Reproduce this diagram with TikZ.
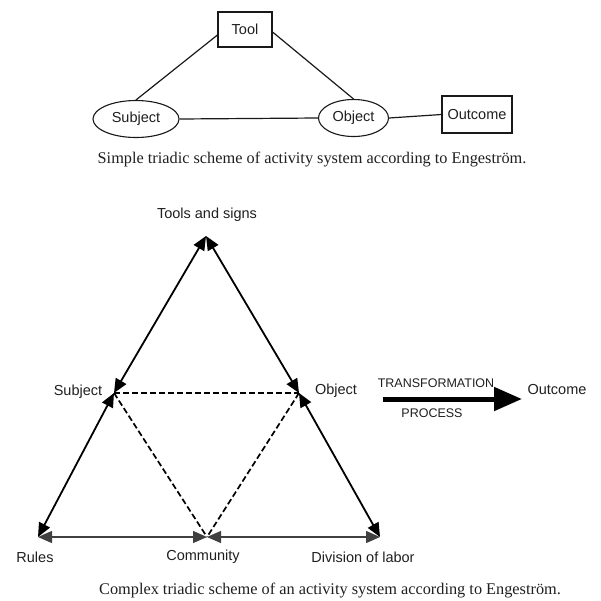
\documentclass[tikz,border=0pt]{standalone}
\usepackage{fontspec}
\setmainfont{Liberation Serif}
\setsansfont{Liberation Sans}
\usetikzlibrary{arrows.meta,shapes.geometric}

\begin{document}
\begin{tikzpicture}[x=1pt,y=-1pt,
  lbl/.style={font=\sffamily\fontsize{14.5}{16}\selectfont, text=black!88, inner sep=0pt},
  caps/.style={font=\sffamily\fontsize{12.5}{14}\selectfont, text=black!88, inner sep=0pt},
  caption/.style={font=\fontsize{16.3}{18}\selectfont, text=black!88, inner sep=0pt},
  boxnode/.style={lbl, draw=black!90, line width=1.1pt, minimum width=54pt, minimum height=35pt},
  ovalnode/.style={lbl, ellipse, draw=black!90, line width=1.1pt, minimum height=37pt},
  link/.style={draw=black!90, line width=1.2pt},
  headtip/.tip={Triangle[length=14pt,width=12pt]},
  edge2/.style={draw=black, line width=1.8pt, headtip-headtip},
  baseedge/.style={draw=black!75, line width=1.3pt, headtip-headtip},
  dashline/.style={draw=black, line width=1.7pt, dash pattern=on 6pt off 3pt},
  bigarrow/.style={draw=black, line width=5pt, -{Triangle[length=28pt,width=23pt]}}
]
\useasboundingbox (0,0) rectangle (601,600);

% ---------- simple triadic scheme ----------
\node[boxnode] (tool) at (245,29.5) {Tool};
\node[ovalnode, minimum width=86pt] (subj) at (136,119) {Subject};
\node[ovalnode, minimum width=70pt] (obj) at (353.5,118) {Object};
\node[boxnode, minimum width=70pt, minimum height=37pt] (out) at (477,114.5) {Outcome};

\draw[link] ([yshift=-5.5pt]tool.west) -- (subj.north);
\draw[link] ([yshift=-2.5pt]tool.east) -- (obj.north);
\draw[link] (subj.east) -- (obj.west);
\draw[link] (obj.east) -- (out.west);

\node[caption] (cap1) at (312,160) {Simple triadic scheme of activity system according to Engeström.};

% ---------- complex triadic scheme ----------
\coordinate (T) at (206,236);
\coordinate (S) at (114,393);
\coordinate (O) at (299,393);
\coordinate (R) at (38,537);
\coordinate (C) at (207,537);
\coordinate (D) at (380,537);

\draw[edge2] (T) -- (S);
\draw[edge2] (T) -- (O);
\draw[edge2] (S) -- (R);
\draw[edge2] (O) -- (D);
\draw[baseedge] (R) -- (C);
\draw[baseedge] (C) -- (D);

\draw[dashline] (S) -- (O);
\draw[dashline] (S) -- (C);
\draw[dashline] (O) -- (C);

\node[lbl] (tlab) at (207,215) {Tools and signs};
\node[lbl] (slab) at (78,392) {Subject};
\node[lbl] (olab) at (336,391) {Object};
\node[lbl] (rlab) at (35,557) {Rules};
\node[lbl] (clab) at (203,557) {Community};
\node[lbl] (dlab) at (363,557) {Division of labor};

% transformation process
\coordinate (tp1) at (383,399);
\coordinate (tp2) at (522,399);
\draw[bigarrow] (tp1) -- (tp2);
\node[caps] (trans) at (436,383) {TRANSFORMATION};
\node[caps] (proc) at (432,413) {PROCESS};
\node[lbl] (outc) at (557,389) {Outcome};

\node[caption] (cap2) at (330,591) {Complex triadic scheme of an activity system according to Engeström.};
\end{tikzpicture}
\end{document}
